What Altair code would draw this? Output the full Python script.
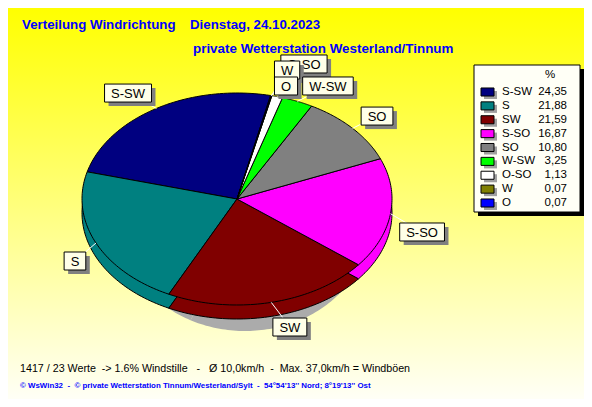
import altair as alt
import pandas as pd

# ---------------- data ----------------
directions = ["S-SW", "S", "SW", "S-SO", "SO", "W-SW", "O-SO", "W", "O"]
percent = [24.35, 21.88, 21.59, 16.87, 10.80, 3.25, 1.13, 0.07, 0.07]
colors = ["#000080", "#008080", "#800000", "#ff00ff", "#808080",
          "#00ff00", "#ffffff", "#808000", "#0000ff"]

title_left = "Verteilung Windrichtung"
title_date = "Dienstag, 24.10.2023"
title_station = "private Wetterstation Westerland/Tinnum"
info_line = "1417 / 23 Werte  -> 1.6% Windstille   -   Ø 10,0km/h  -  Max. 37,0km/h = Windböen"
footer_line = "© WsWin32  -  © private Wetterstation Tinnum/Westerland/Sylt  -  54°54'13'' Nord; 8°19'13'' Ost"
legend_header = "%"

# ---------------- layout ----------------
W, H = 576, 391
START_DEG = 12.5          # first slice boundary (clockwise from top)
NSEG = 60
A_PX, B_PX = 155.0, 106.0  # ellipse semi axes (px)
CX, CY = 229.0, 191.0      # ellipse centre (chart px)
DEPTH = 14.0
xs = alt.Scale(domain=[-1, 1], range=[CX - A_PX, CX + A_PX], nice=False, zero=False)
ys = alt.Scale(domain=[-1, 1], range=[CY + B_PX, CY - B_PX], nice=False, zero=False)
LEG_Y = alt.Scale(domain=[0, 8], range=[84, 195], nice=False, zero=False)
ROW_PX = (195 - 84) / 8.0

# label placement (radius factor, angle nudge in degrees) per direction
label_r = [1.222, 1.198, 1.255, 1.234, 1.195, 1.217, 1.345, 1.259, 1.112]
label_da = [-3.8, -4.7, -3.0, 6.6, 0.9, 5.9, 3.7, 2.0, 3.9]
label_draw_order = ["O-SO", "W", "O", "W-SW", "SO", "S-SO", "SW", "S", "S-SW"]
char_w = {"S": 0.667, "W": 0.944, "O": 0.778, "-": 0.333}
LABEL_FS = 13
box_w = [LABEL_FS * sum(char_w[c] for c in d) + 13 for d in directions]

LABEL_FONT = "Liberation Sans"
TITLE_FONT = "Liberation Sans"

df = pd.DataFrame({
    "dir": directions,
    "pct": percent,
    "color": colors,
    "row": list(range(len(directions))),
    "pie_order": [len(directions) - 1 - i for i in range(len(directions))],
    "label_r": label_r,
    "label_da": label_da,
    "box_w": box_w,
})

base = (
    alt.Chart(df)
    .transform_window(cum="sum(pct)", sort=[alt.SortField("pie_order", order="ascending")])
    .transform_joinaggregate(total="sum(pct)")
    .transform_calculate(
        a0=f"({START_DEG} + 360*(datum.cum - datum.pct)/datum.total)*PI/180",
        a1=f"({START_DEG} + 360*datum.cum/datum.total)*PI/180",
    )
)

poly = (
    base.transform_calculate(steps=f"sequence(0, {NSEG + 2})")
    .transform_flatten(["steps"], as_=["k"])
    .transform_calculate(
        t=f"min(datum.k, {NSEG})/{NSEG}",
        ang="datum.a0 + (datum.a1 - datum.a0)*datum.t",
        px=f"datum.k > {NSEG} ? 0 : sin(datum.ang)",
        py=f"datum.k > {NSEG} ? 0 : cos(datum.ang)",
        py_side=f"datum.py - {DEPTH / B_PX}",
        px_sh=f"datum.px*0.8 + {8 / A_PX}",
        py_sh=f"datum.py - {(DEPTH + 12) / B_PX}",
    )
)

shadow = poly.mark_line(interpolate="linear-closed", strokeWidth=0).encode(
    x=alt.X("px_sh:Q", scale=xs, axis=None),
    y=alt.Y("py_sh:Q", scale=ys, axis=None),
    detail="dir:N",
    order=alt.Order("k:Q"),
    fill=alt.value("#ababab"),
)

side = poly.mark_line(interpolate="linear-closed", stroke="black", strokeWidth=1,
                      strokeJoin="round").encode(
    x=alt.X("px:Q", scale=xs, axis=None),
    y=alt.Y("py_side:Q", scale=ys, axis=None),
    detail="dir:N",
    order=alt.Order("k:Q"),
    fill=alt.Fill("color:N", scale=None, legend=None),
)

top = poly.mark_line(interpolate="linear-closed", stroke="black", strokeWidth=1,
                     strokeJoin="round").encode(
    x=alt.X("px:Q", scale=xs, axis=None),
    y=alt.Y("py:Q", scale=ys, axis=None),
    detail="dir:N",
    order=alt.Order("k:Q"),
    fill=alt.Fill("color:N", scale=None, legend=None),
)

lab = base.transform_calculate(
    m="(datum.a0 + datum.a1)/2",
    la="datum.m + datum.label_da*PI/180",
    lx="datum.label_r*sin(datum.la)",
    ly="datum.label_r*cos(datum.la)",
    ex="sin(datum.m)",
    ey="cos(datum.m)",
    bx0=f"datum.lx - datum.box_w/2/{A_PX}",
    bx1=f"datum.lx + datum.box_w/2/{A_PX}",
    by0=f"datum.ly - {9 / B_PX}",
    by1=f"datum.ly + {9 / B_PX}",
    sx0=f"datum.bx0 + {4 / A_PX}",
    sx1=f"datum.bx1 + {4 / A_PX}",
    sy0=f"datum.by0 - {4 / B_PX}",
    sy1=f"datum.by1 - {4 / B_PX}",
)

leaders = lab.mark_rule(color="white", strokeWidth=1).encode(
    x=alt.X("ex:Q", scale=xs, axis=None),
    y=alt.Y("ey:Q", scale=ys, axis=None),
    x2="lx:Q",
    y2="ly:Q",
)

label_layers = []
for d in label_draw_order:
    f = lab.transform_filter(alt.datum.dir == d)
    label_layers.append(f.mark_rect(fill="#808080").encode(
        x=alt.X("sx0:Q", scale=xs, axis=None), x2="sx1:Q",
        y=alt.Y("sy0:Q", scale=ys, axis=None), y2="sy1:Q"))
    label_layers.append(f.mark_rect(fill="#ffffe8", stroke="black", strokeWidth=1).encode(
        x=alt.X("bx0:Q", scale=xs, axis=None), x2="bx1:Q",
        y=alt.Y("by0:Q", scale=ys, axis=None), y2="by1:Q"))
    label_layers.append(f.mark_text(font=LABEL_FONT, fontSize=LABEL_FS, color="black",
                                    align="center", baseline="middle", dy=1).encode(
        x=alt.X("lx:Q", scale=xs, axis=None),
        y=alt.Y("ly:Q", scale=ys, axis=None),
        text="dir:N"))

# ---------------- legend ----------------
leg = alt.Chart(df).transform_calculate(
    y0="datum.row - 0.29", y1="datum.row + 0.29",
    ys0=f"datum.row - 0.29 + {3 / ROW_PX}", ys1=f"datum.row + 0.29 + {3 / ROW_PX}",
    val="replace(format(datum.pct, '.2f'), '.', ',')",
)
one = alt.InlineData(values=[{"t": 0}])
leg_shadow = alt.Chart(one).mark_rect(fill="black").encode(
    x=alt.value(470), x2=alt.value(576), y=alt.value(61), y2=alt.value(208))
leg_box = alt.Chart(one).mark_rect(fill="#fffff6", stroke="black", strokeWidth=1).encode(
    x=alt.value(466), x2=alt.value(572), y=alt.value(57), y2=alt.value(204))
leg_head = alt.Chart(alt.InlineData(values=[{"t": legend_header}])).mark_text(
    font=LABEL_FONT, fontSize=11.5, color="black", align="center", baseline="middle").encode(
    text="t:N", x=alt.value(542), y=alt.value(67))
sw_sh = leg.mark_rect(fill="#a0a0a0").encode(
    x=alt.value(476), x2=alt.value(489),
    y=alt.Y("ys0:Q", scale=LEG_Y, axis=None), y2="ys1:Q")
sw = leg.mark_rect(stroke="black", strokeWidth=1).encode(
    x=alt.value(473), x2=alt.value(486),
    y=alt.Y("y0:Q", scale=LEG_Y, axis=None), y2="y1:Q",
    fill=alt.Fill("color:N", scale=None, legend=None))
leg_lab = leg.mark_text(font=LABEL_FONT, fontSize=11.5, color="black", align="left",
                        baseline="middle").encode(
    x=alt.value(494), y=alt.Y("row:Q", scale=LEG_Y, axis=None), text="dir:N")
leg_val = leg.mark_text(font=LABEL_FONT, fontSize=11.5, color="black", align="right",
                        baseline="middle").encode(
    x=alt.value(559), y=alt.Y("row:Q", scale=LEG_Y, axis=None), text="val:N")

# ---------------- texts ----------------
def txt(s, x, y, **kw):
    s = s.replace(" ", "\u00a0")
    return alt.Chart(alt.InlineData(values=[{"t": s}])).mark_text(
        align="left", baseline="middle", **kw).encode(
        text="t:N", x=alt.value(x), y=alt.value(y))

t1 = txt(title_left, 14, 17, font=TITLE_FONT, fontSize=13.3, fontWeight="bold", color="#0000ff")
t2 = txt(title_date, 182, 17, font=TITLE_FONT, fontSize=13.3, fontWeight="bold", color="#0000ff")
t3 = txt(title_station, 185, 41, font=TITLE_FONT, fontSize=13.4, fontWeight="bold", color="#0000ff")
t4 = txt(info_line, 12, 361, font=TITLE_FONT, fontSize=10.7, color="black")
t5 = txt(footer_line, 12, 378, font=TITLE_FONT, fontSize=7.9, fontWeight="bold", color="#0000ff")

bg = alt.Chart(one).mark_rect(color={
    "gradient": "linear", "x1": 0, "y1": 0, "x2": 0, "y2": 1,
    "stops": [{"offset": 0, "color": "#ffff00"}, {"offset": 1, "color": "#fffff6"}]}).encode(
    x=alt.value(0), x2=alt.value(W), y=alt.value(0), y2=alt.value(H))

chart = alt.layer(
    bg, shadow, side, top, leaders, *label_layers,
    leg_shadow, leg_box, leg_head, sw_sh, sw, leg_lab, leg_val,
    t1, t2, t3, t4, t5,
).resolve_scale(x="independent", y="independent").properties(
    width=W, height=H, autosize=alt.AutoSizeParams(type="none"), padding=0,
).configure_view(strokeWidth=0)

chart.save("out.html", embed_options={"renderer": "svg", "actions": False})
